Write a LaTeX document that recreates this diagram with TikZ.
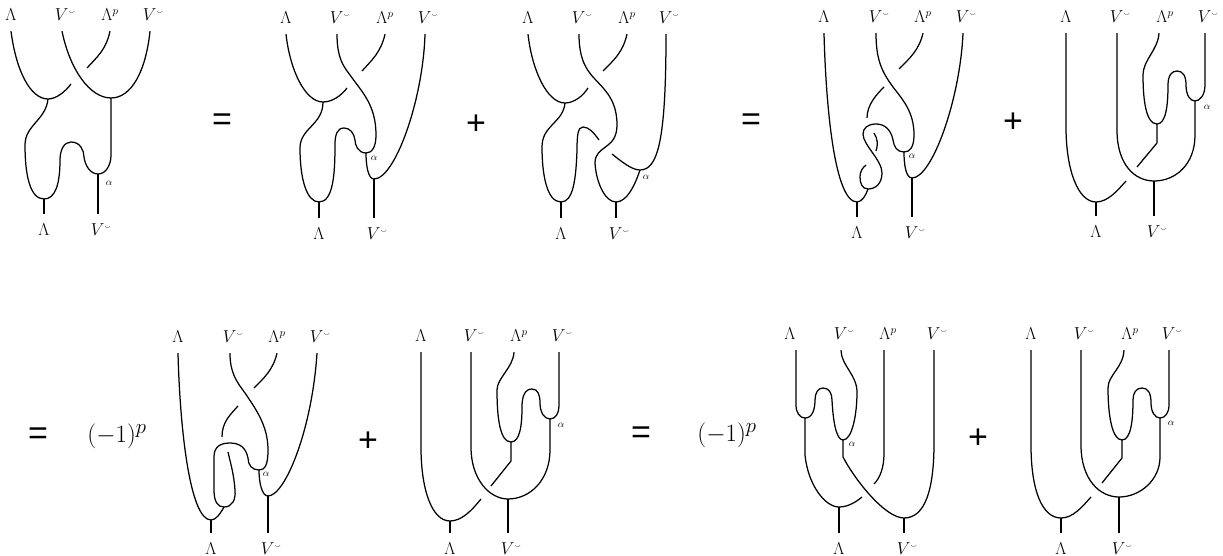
\documentclass[tikz,border=0pt]{standalone}
\usepackage{amssymb}
\usepackage{fontspec}
\setsansfont{Liberation Sans}
\newcommand{\Vd}{V^{\rlap{$\scriptscriptstyle\smallsmile$}}}
\newcommand{\Lp}{\Lambda^p}
\begin{document}
\begin{tikzpicture}[x=1pt,y=-1pt]
	\tikzset{
		lab/.style={font=\fontsize{16}{19}\selectfont, inner sep=0, text height=11, text depth=0, minimum height=32},
		tag/.style={font=\normalsize, inner sep=0},
		op/.style={font=\fontsize{34}{40}\selectfont\sffamily, inner sep=0},
		sgn/.style={font=\fontsize{31}{36}\selectfont, inner sep=0},
		strand/.style={line width=1.25pt}
	}
	\useasboundingbox (0,0) rectangle (1223,556);

	\foreach \n/\x/\y/\t in {%
		a1/11/15/\Lambda, a2/62/15/\Vd, a3/110/15/\Lp, a4/150/15/\Vd, a5/44/230/\Lambda, a6/98/230/\Vd,%
		b1/286/18/\Lambda, b2/337/18/\Vd, b3/385/18/\Lp, b4/425/18/\Vd, b5/319/234/\Lambda, b6/374/234/\Vd,%
		c1/528/18/\Lambda, c2/579/18/\Vd, c3/627/18/\Lp, c4/666/18/\Vd, c5/561/234/\Lambda, c6/616/234/\Vd,%
		d1/824/17/\Lambda, d2/876/17/\Vd, d3/923/17/\Lp, d4/963/17/\Vd, d5/857/233/\Lambda, d6/912/233/\Vd,%
		e1/1066/17/\Lambda, e2/1117/17/\Vd, e3/1165/17/\Lp, e4/1205/17/\Vd, e5/1096/232/\Lambda, e6/1154/232/\Vd,%
		f1/178/337/\Lambda, f2/230/337/\Vd, f3/277/337/\Lp, f4/317/337/\Vd, f5/211/549/\Lambda, f6/268/549/\Vd,%
		g1/421/336/\Lambda, g2/471/336/\Vd, g3/519/336/\Lp, g4/559/336/\Vd, g5/450/549/\Lambda, g6/508/549/\Vd,%
		h1/790/334/\Lambda, h2/841/334/\Vd, h3/888/334/\Lp, h4/934/334/\Vd, h5/839/549/\Lambda, h6/904/549/\Vd,%
		i1/1031/334/\Lambda, i2/1081/334/\Vd, i3/1130/334/\Lp, i4/1169/334/\Vd, i5/1061/549/\Lambda, i6/1119/549/\Vd%
	}{
		\node[lab] (\n) at (\x,\y) {$\t$};
	}
	\foreach \n/\x/\y in {%
		at/109/183, bt/374/158, ct/646/177, dt/912/156, et/1207/107,%
		ft/266/474, gt/561/425, ht/852/444, it/1171/423%
	}{
		\node[tag] (\n) at (\x,\y) {$\alpha$};
	}
	\foreach \n/\x/\y/\t in {%
		o1/222/122/=, o2/476/125/+, o3/751/122/=, o4/1013/123/+,%
		o5/38/436/=, o6/368/442/+, o7/641/435/=, o8/978/439/+%
	}{
		\node[op] (\n) at (\x,\y) {\t};
	}
	\node[sgn] (s1) at (117,436) {$(-1)^p$};
	\node[sgn] (s2) at (727,435) {$(-1)^p$};

	\foreach \n/\x/\y in {%
		aj/48/99, ak/111/98, al/44/199, am/98/174, an/71/84, ao/87/68,%
		bj/323/102, bk/366/153, bl/319/202, bm/374/179, bn/347/88, bo/362/71,%
		cj/565/103, ck/640/170, cl/561/202, cm/616/202, cn/588/88, co/603/71, cp/612/154, cq/599/140,%
		dj/857/202, dk/904/152, dl/912/178, dm/868/189, dn/899/69, do/884/87, dp/867/118, dq/866/165, dr/874/133, ds/876/151,%
		ej/1096/202, ek/1154/181, el/1157/124, em/1195/101, en/1126/181, eo/1137/167,%
		fj/211/520, fk/259/470, fl/268/496, fm/224/507, fn/254/388, fo/238/406, fp/222/437, fq/228/452,%
		gj/450/521, gk/508/499, gl/511/442, gm/550/419, gn/481/499, go/491/486,%
		hj/805/418, hk/843/440, hl/839/507, hm/904/518, hn/862/497, ho/874/484,%
		ij/1061/518, ik/1119/497, il/1122/440, im/1160/418, in/1091/497, io/1102/483%
	}{
		\coordinate (\n) at (\x,\y);
	}

	\begin{scope}[strand]
		\draw (a1.south) .. controls (16,70) and (30,99) .. (aj) .. controls (56,99) and (65,92) .. (an);
		\draw (a2.south) .. controls (70,70) and (90,98) .. (ak) .. controls (132,98) and (146,70) .. (a4.south);
		\draw (a3.south) .. controls (106,50) and (97,57) .. (ao);
		\draw (aj) .. controls (46,120) and (25,125) .. (25,145) .. controls (25,175) and (30,199) .. (al)
			.. controls (55,199) and (60,185) .. (60,160) .. controls (60,150) and (64,142) .. (71,142)
			.. controls (80,142) and (84,150) .. (84,157) .. controls (85,165) and (90,174) .. (am)
			.. controls (106,174) and (111,165) .. (111,155) -- (ak);
		\draw (al) -- (al |- a5.north);
		\draw (am) -- (am |- a6.north);

		\draw (b1.south) .. controls (290,70) and (305,102) .. (bj) .. controls (332,102) and (341,96) .. (bn);
		\draw (b3.south) .. controls (381,52) and (372,60) .. (bo);
		\draw (b2.south) .. controls (337,60) and (345,68) .. (350,75) .. controls (362,92) and (376,105) .. (376,135)
			.. controls (376,147) and (372,153) .. (bk);
		\draw (bj) .. controls (323,125) and (300,128) .. (300,148) .. controls (300,180) and (307,202) .. (bl)
			.. controls (333,202) and (335,175) .. (335,145) .. controls (335,135) and (337,128) .. (344,128)
			.. controls (350,128) and (354,133) .. (355,140) .. controls (355,145) and (358,153) .. (bk);
		\draw (bk) .. controls (366,165) and (368,179) .. (bm) .. controls (395,179) and (423,100) .. (b4.south);
		\draw (bl) -- (bl |- b5.north);
		\draw (bm) -- (bm |- b6.north);

		\draw (c1.south) .. controls (532,70) and (547,103) .. (cj) .. controls (574,103) and (583,96) .. (cn);
		\draw (c3.south) .. controls (623,52) and (614,60) .. (co);
		\draw (c2.south) .. controls (579,60) and (587,70) .. (593,77) .. controls (605,90) and (617,100) .. (617,125)
			.. controls (617,150) and (595,145) .. (595,163) .. controls (596,182) and (605,202) .. (cm)
			.. controls (627,202) and (635,185) .. (ck);
		\draw (cp) .. controls (622,162) and (632,170) .. (ck) .. controls (658,170) and (666,140) .. (c4.south);
		\draw (cj) .. controls (563,123) and (542,125) .. (542,147) .. controls (542,175) and (547,202) .. (cl)
			.. controls (573,202) and (576,180) .. (577,150) .. controls (577,135) and (578,127) .. (583,127)
			.. controls (589,127) and (594,133) .. (cq);
		\draw (cl) -- (cl |- c5.north);
		\draw (cm) -- (cm |- c6.north);

		\draw (d1.south) .. controls (826,110) and (835,202) .. (dj) .. controls (862,202) and (866,195) .. (dm);
		\draw (d2.south) .. controls (876,60) and (882,72) .. (893,87) .. controls (903,100) and (914,112) .. (914,135)
			.. controls (914,147) and (910,152) .. (dk);
		\draw (d3.south) .. controls (919,50) and (910,58) .. (dn);
		\draw (do) .. controls (876,95) and (867,105) .. (dp);
		\draw (dk) .. controls (897,152) and (894,147) .. (893,140) .. controls (891,130) and (885,124) .. (876,124)
			.. controls (868,124) and (863,128) .. (863,134) .. controls (863,145) and (882,160) .. (882,173)
			.. controls (882,183) and (876,189) .. (dm) .. controls (862,189) and (860,183) .. (860,177)
			.. controls (860,172) and (862,168) .. (dq);
		\draw (dr) .. controls (878,139) and (878,145) .. (ds);
		\draw (dk) .. controls (904,165) and (906,178) .. (dl) .. controls (932,178) and (960,100) .. (d4.south);
		\draw (dj) -- (dj |- d5.north);
		\draw (dl) -- (dl |- d6.north);

		\draw (e1.south) -- (1066,127) .. controls (1066,170) and (1078,202) .. (ej) .. controls (1108,202) and (1118,190) .. (en);
		\draw (e2.south) -- (1117,130) .. controls (1117,165) and (1135,181) .. (ek) .. controls (1175,181) and (1195,165) .. (1195,135) -- (em);
		\draw ([xshift=-6]e3.south) .. controls (1158,50) and (1143,60) .. (1143,75) .. controls (1143,100) and (1146,124) .. (el)
			.. controls (1166,124) and (1168,105) .. (1168,85) .. controls (1168,75) and (1172,71) .. (1177,71)
			.. controls (1183,71) and (1186,76) .. (1186,85) .. controls (1186,95) and (1190,101) .. (em)
			.. controls (1200,101) and (1205,95) .. (1205,85) -- (e4.south);
		\draw (el) -- (1157,143) -- (eo);
		\draw (ej) -- (ej |- e5.north);
		\draw (ek) -- (ek |- e6.north);

		\draw (f1.south) .. controls (180,430) and (190,520) .. (fj) .. controls (216,520) and (220,514) .. (fm);
		\draw (f2.south) .. controls (230,372) and (236,381) .. (245,393) .. controls (255,408) and (268,425) .. (268,450)
			.. controls (268,465) and (265,470) .. (fk);
		\draw (f3.south) .. controls (273,370) and (264,378) .. (fn);
		\draw (fo) .. controls (230,415) and (222,422) .. (fp);
		\draw (fk) .. controls (252,470) and (248,465) .. (248,458) .. controls (246,448) and (240,443) .. (230,443)
			.. controls (220,443) and (214,447) .. (214,457) -- (214,490) .. controls (214,502) and (218,507) .. (fm)
			.. controls (232,507) and (236,500) .. (235,490) .. controls (234,475) and (231,465) .. (fq);
		\draw (fk) .. controls (259,483) and (262,496) .. (fl) .. controls (285,496) and (312,430) .. (f4.south);
		\draw (fj) -- (fj |- f5.north);
		\draw (fl) -- (fl |- f6.north);

		\draw (g1.south) -- (421,447) .. controls (421,490) and (432,521) .. (gj) .. controls (462,521) and (472,510) .. (gn);
		\draw (g2.south) -- (471,447) .. controls (471,480) and (490,499) .. (gk) .. controls (530,499) and (550,480) .. (550,450) -- (gm);
		\draw ([xshift=-5]g3.south) .. controls (513,368) and (497,378) .. (497,390) .. controls (497,418) and (500,442) .. (gl)
			.. controls (520,442) and (522,425) .. (522,407) .. controls (522,396) and (525,389) .. (532,389)
			.. controls (538,389) and (540,395) .. (540,403) .. controls (540,412) and (544,419) .. (gm)
			.. controls (555,419) and (559,414) .. (559,405) -- (g4.south);
		\draw (gl) -- (511,461) -- (go);
		\draw (gj) -- (gj |- g5.north);
		\draw (gk) -- (gk |- g6.north);

		\draw ([xshift=6]h1.south) -- (796,405) .. controls (796,413) and (800,418) .. (hj)
			.. controls (812,418) and (815,410) .. (815,400) .. controls (815,393) and (818,388) .. (823,388)
			.. controls (829,388) and (832,393) .. (832,400) .. controls (833,420) and (836,440) .. (hk)
			.. controls (852,440) and (857,415) .. (857,392) .. controls (857,375) and (841,365) .. (h2.south);
		\draw (hj) -- (805,455) .. controls (808,485) and (825,507) .. (hl) .. controls (848,507) and (856,502) .. (hn);
		\draw (hk) -- (843,457) .. controls (855,480) and (885,518) .. (hm) .. controls (925,518) and (934,490) .. (934,443) -- (h4.south);
		\draw ([xshift=-4]h3.south) -- (884,453) .. controls (884,468) and (880,478) .. (ho);
		\draw (hl) -- (hl |- h5.north);
		\draw (hm) -- (hm |- h6.north);

		\draw (i1.south) -- (1031,445) .. controls (1031,490) and (1042,518) .. (ij) .. controls (1073,518) and (1082,507) .. (in);
		\draw (i2.south) -- (1081,445) .. controls (1081,480) and (1100,497) .. (ik) .. controls (1140,497) and (1160,480) .. (1160,457) -- (im);
		\draw ([xshift=-6]i3.south) .. controls (1123,368) and (1108,375) .. (1108,388) .. controls (1108,415) and (1112,440) .. (il)
			.. controls (1131,440) and (1133,420) .. (1133,400) .. controls (1133,393) and (1136,388) .. (1142,388)
			.. controls (1148,388) and (1151,393) .. (1151,403) .. controls (1151,412) and (1155,418) .. (im)
			.. controls (1165,418) and (1169,413) .. (1169,405) -- (i4.south);
		\draw (il) -- (1122,458) -- (io);
		\draw (ij) -- (ij |- i5.north);
		\draw (ik) -- (ik |- i6.north);
	\end{scope}
\end{tikzpicture}
\end{document}
